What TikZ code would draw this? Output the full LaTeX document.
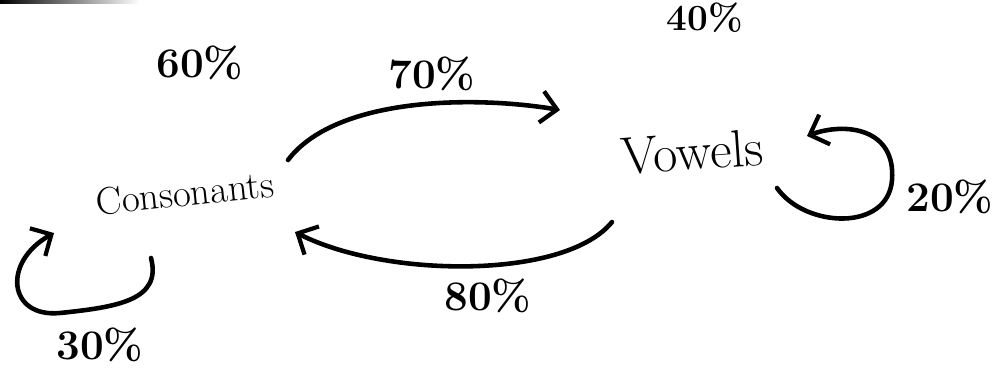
\documentclass[tikz,border=0pt]{standalone}
\usetikzlibrary{arrows.meta}
\begin{document}
\begin{tikzpicture}[x=0.02cm,y=-0.02cm,
  pct/.style={font=\fontsize{24}{28}\selectfont\bfseries, inner sep=0pt},
  word/.style={inner sep=0pt},
  stroke/.style={line width=2.6pt, line cap=round, -{Straight Barb[length=9pt,width=18pt,line width=2.4pt]}}]
\useasboundingbox (0,0) rectangle (1000,372);
\shade[left color=black, right color=white] (0,0) rectangle (140,3);
% nodes
\node[word, font=\fontsize{22}{26}\selectfont, rotate=6] (cons) at (185,193) {Consonants};
\node[word, font=\fontsize{30}{34}\selectfont, rotate=4] (vow) at (692,152) {Vowels};
\node[pct] (p60) at (200,63) {60\%};
\node[pct, font=\fontsize{21}{24}\selectfont\bfseries] (p40) at (705,18) {40\%};
\node[pct] (p70) at (432,74) {70\%};
\node[pct] (p80) at (488,296) {80\%};
\node[pct] (p20) at (950,197) {20\%};
\node[pct] (p30) at (100,345) {30\%};
% connector end points
\coordinate (a1s) at (288,160);
\coordinate (a1e) at (560,110);
\coordinate (a2s) at (612,222);
\coordinate (a2e) at (295,232);
\coordinate (l1s) at (777,188);
\coordinate (l1e) at (807,136);
\coordinate (l2s) at (151,258);
\coordinate (l2e) at (54,233);
% connectors
\draw[stroke] (a1s) .. controls (335,98) and (470,95) .. (a1e);
\draw[stroke] (a2s) .. controls (565,280) and (385,278) .. (a2e);
\draw[stroke] (l1s) .. controls (805,228) and (888,232) .. (892,180) .. controls (896,128) and (845,122) .. (l1e);
\draw[stroke] (l2s) .. controls (162,300) and (118,307) .. (60,313) .. controls (8,318) and (2,262) .. (l2e);
\end{tikzpicture}
\end{document}
